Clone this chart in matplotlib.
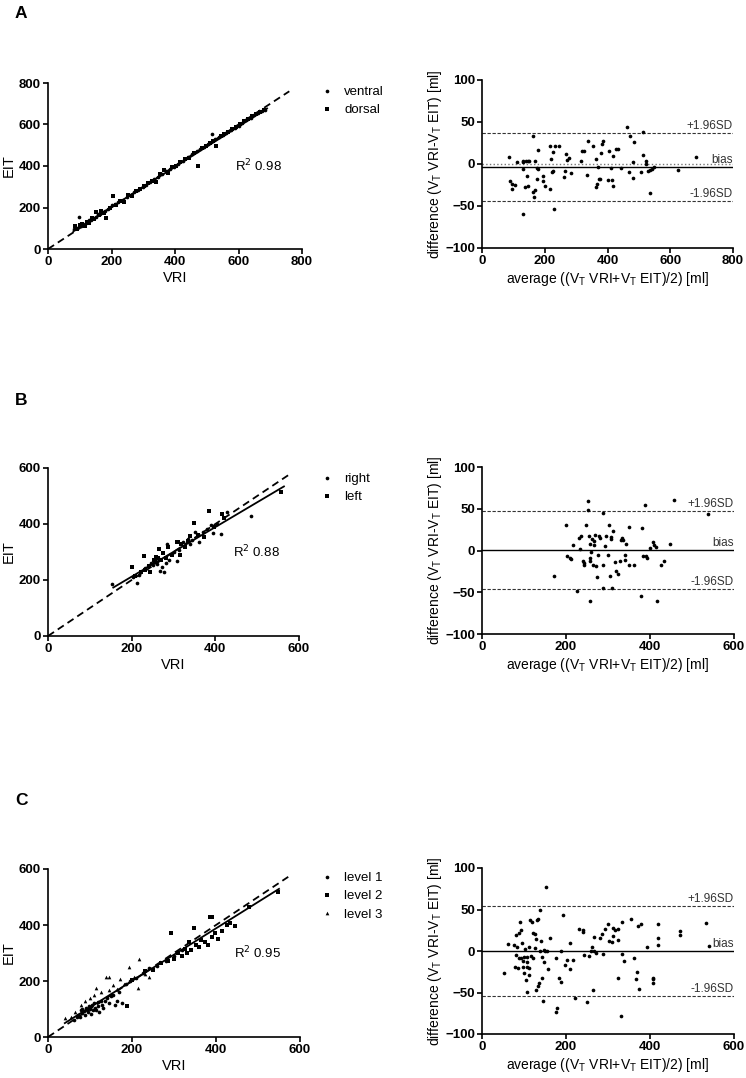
import numpy as np
import matplotlib as mpl
import matplotlib.pyplot as plt
from matplotlib.lines import Line2D

mpl.rcParams.update({'font.family': ['Liberation Sans', 'DejaVu Sans'], 'font.size': 9})

# ---- panel A: ventral / dorsal ----
a_ventral_vri = [82, 90, 98, 105, 112, 120, 128, 135, 142, 150, 158, 165, 172, 180, 190, 200, 210, 222,
                 235, 248, 260, 272, 285, 298, 310, 322, 335, 348, 360, 372, 385, 398, 410, 425, 440, 455,
                 468, 480, 492, 505, 515, 525, 538, 550, 562, 575, 588, 600, 612, 625, 638, 650, 662, 675, 685]
a_ventral_eit = [95, 100, 155, 112, 118, 125, 140, 138, 150, 152, 170, 168, 178, 185, 195, 210, 215, 225,
                 238, 250, 262, 275, 285, 300, 310, 322, 335, 345, 362, 375, 385, 395, 410, 425, 445, 460,
                 470, 480, 490, 505, 555, 530, 540, 548, 560, 572, 585, 595, 608, 620, 632, 645, 655, 665, 672]
a_dorsal_vri = [85, 92, 100, 108, 115, 122, 130, 138, 145, 152, 160, 168, 175, 182, 195, 205, 215, 228,
                240, 252, 265, 278, 290, 302, 315, 328, 340, 352, 365, 378, 390, 402, 415, 430, 445, 460,
                472, 485, 498, 510, 520, 530, 545, 555, 568, 580, 592, 605, 618, 630, 642, 655, 668, 680]
a_dorsal_eit = [110, 95, 115, 120, 112, 130, 125, 150, 145, 180, 165, 185, 175, 150, 200, 255, 210, 230,
                225, 260, 255, 280, 290, 305, 318, 330, 325, 360, 380, 365, 395, 400, 420, 432, 440, 462,
                400, 488, 495, 512, 520, 495, 545, 552, 565, 578, 590, 600, 615, 625, 640, 650, 660, 668]
a_fit = (0.97, 8.0, 80, 690)  # slope, intercept, x from, x to

a_avg = [85, 90, 95, 97, 104, 111, 130, 130, 132, 139, 143, 138, 148, 150, 146, 164, 164, 168, 170, 175,
         176, 178, 180, 165, 194, 196, 201, 218, 218, 220, 223, 225, 227, 228, 233, 244, 130, 260, 263,
         268, 270, 276, 283, 314, 318, 325, 334, 339, 355, 362, 363, 366, 369, 373, 376, 378, 382, 386,
         400, 404, 410, 415, 419, 419, 427, 433, 442, 461, 467, 471, 482, 482, 484, 508, 513, 512, 522,
         524, 530, 534, 537, 543, 549, 625, 683]
a_diff = [8, -20, -24, -30, -25, 2, 2, -6, 3, 4, -14, -27, -26, 3, 4, 33, -33, -31, 3, -18,
          -5, 17, -6, -39, -14, -20, -26, -30, 22, 6, -10, 14, -8, -53, 22, 22, -60, -16, -8,
          12, 5, 7, -11, 3, 16, 16, -13, 27, 21, 6, -27, -24, -4, -18, -18, 13, 24, 27,
          -19, 15, -5, -19, -26, 10, 18, 18, -5, 44, -9, 33, 2, -17, 26, -9, 38, 11, 0,
          4, -8, -34, -7, -6, -3, -7, 8]
a_bias, a_upper, a_lower = -3.8, 36.6, -44.2

# ---- panel B: right / left ----
b_right_vri = [154, 202, 213, 217, 231, 239, 247, 257, 261, 267, 273, 278, 285, 290, 308, 312, 322, 334,
               344, 352, 361, 380, 389, 394, 413, 429, 486, 250, 265, 282, 300, 326, 340, 370, 405]
b_right_eit = [185, 209, 188, 218, 244, 251, 262, 265, 257, 233, 247, 227, 329, 271, 269, 307, 337, 345,
               343, 370, 337, 382, 397, 369, 363, 442, 430, 255, 275, 262, 300, 320, 330, 372, 400]
b_left_vri = [200, 207, 229, 233, 245, 253, 259, 265, 270, 275, 281, 287, 308, 310, 316, 328, 340, 349,
              374, 385, 415, 557, 222, 242, 256, 263, 296, 318, 335, 358, 398, 420]
b_left_eit = [247, 214, 286, 235, 229, 271, 283, 310, 271, 295, 277, 319, 335, 337, 289, 319, 357, 405,
              355, 448, 436, 516, 230, 250, 268, 280, 290, 330, 340, 360, 390, 420]
b_fit = (0.885, 35.0, 156, 564)

b_avg = [171, 201, 202, 210, 212, 217, 226, 231, 233, 236, 240, 242, 244, 247, 252, 253, 255, 256, 257,
         257, 258, 260, 261, 264, 266, 267, 270, 272, 274, 276, 279, 282, 287, 287, 288, 292, 296, 300,
         302, 304, 306, 308, 310, 311, 316, 320, 323, 328, 331, 334, 335, 340, 341, 343, 350, 351, 361,
         379, 382, 384, 389, 390, 393, 399, 407, 410, 415, 417, 425, 434, 448, 458, 537]
b_diff = [-30, 30, -7, -9, -10, 6, -48, 15, 2, 17, -12, -15, -17, 30, 59, 48, 17, 8, -9,
          -12, -60, -2, 14, -17, 6, 11, 18, -18, -32, -5, 17, 15, 45, -45, -17, 5, 17, -5,
          30, -30, 16, 14, -45, 23, -14, -24, -28, -12, 13, 15, 12, -11, -5, 8, -17, 28, -17,
          -55, 27, -6, 54, -7, -9, 3, 10, 7, 4, -61, -17, -12, 8, 60, 44]
b_bias, b_upper, b_lower = 0.5, 47.3, -46.3

# ---- panel C: level 1 / 2 / 3 ----
c_l1_vri = [62, 68, 72, 75, 78, 80, 82, 85, 88, 90, 92, 95, 98, 100, 102, 105, 108, 110, 112, 115, 118,
            120, 122, 125, 128, 130, 135, 140, 145, 150, 155, 160, 165, 170, 175, 185, 195, 210, 225, 240,
            260, 280, 300, 320]
c_l1_eit = [62, 72, 80, 70, 95, 85, 100, 92, 78, 105, 95, 88, 110, 100, 82, 115, 95, 120, 105, 98, 125,
            110, 90, 130, 115, 105, 128, 140, 120, 145, 150, 115, 130, 160, 120, 190, 200, 210, 230, 245,
            255, 270, 290, 310]
c_l2_vri = [188, 200, 230, 250, 270, 285, 292, 300, 310, 318, 325, 330, 336, 340, 347, 352, 360, 365, 373,
            380, 385, 391, 391, 398, 405, 415, 425, 434, 445, 478, 548]
c_l2_eit = [111, 205, 235, 240, 265, 270, 373, 280, 300, 290, 315, 300, 340, 310, 388, 330, 320, 345, 338,
            330, 427, 427, 358, 370, 350, 380, 400, 406, 395, 465, 517]
c_l3_vri = [40, 55, 65, 78, 88, 100, 110, 115, 125, 137, 145, 145, 155, 165, 172, 180, 194, 205, 215, 217,
            230, 240]
c_l3_eit = [67, 70, 90, 115, 128, 140, 150, 174, 160, 213, 213, 168, 185, 170, 207, 190, 251, 215, 176, 277,
            225, 215]
c_fit = (0.94, 12.0, 40, 550)

c_avg = [53, 61, 75, 78, 80, 81, 83, 85, 87, 89, 90, 92, 93, 95, 97, 98, 99, 100, 102, 104, 106, 106, 107,
         108, 111, 112, 113, 115, 117, 119, 121, 122, 125, 125, 128, 129, 131, 133, 134, 136, 137, 139,
         141, 143, 144, 146, 147, 148, 151, 152, 155, 156, 161, 175, 175, 179, 183, 187, 189, 194, 198,
         202, 209, 210, 217, 222, 230, 240, 240, 244, 250, 254, 260, 263, 264, 266, 266, 271, 280, 285,
         289, 294, 300, 303, 310, 311, 313, 317, 323, 324, 324, 333, 334, 332, 339, 355, 363, 366, 369,
         371, 374, 379, 392, 406, 407, 408, 419, 419, 420, 471, 471, 534, 540]
c_diff = [-26, 9, 7, -19, -5, 19, 5, -21, -9, 22, 35, -8, 25, 10, -19, -12, -7, -26, 3, -35, -49, -7, -13,
          -19, -21, 5, -29, 37, -6, 35, 22, -8, 21, 4, 14, -47, 37, -42, 39, -39, 0, 50,
          12, -7, -33, -60, 1, -13, 0, 77, 0, -22, 16, -9, -73, -69, -32, 0, -37, 43, -17,
          -11, 10, -22, -11, -57, 26, 25, 23, -5, -61, -6, 0, 5, -47, 17, 0, -3, 16, 21,
          -4, 26, 32, 12, 11, 18, 28, 25, -32, 13, 26, 35, -4, -78, -12, 39, -9, -34, -25,
          30, -46, 32, 5, -38, -33, -34, 16, 7, 32, 24, 19, 34, 6]
c_bias, c_upper, c_lower = 0.0, 54.0, -54.0

W, H = 746, 1078
fig = plt.figure(figsize=(W / 100, H / 100), dpi=100)


def px_axes(x0, y0, x1, y1):
    # axes from pixel box (top-left origin)
    return fig.add_axes([x0 / W, 1 - y1 / H, (x1 - x0) / W, (y1 - y0) / H])


def style(ax):
    for side in ['top', 'right']:
        ax.spines[side].set_visible(False)
    for side in ['left', 'bottom']:
        ax.spines[side].set_linewidth(1.2)
    ax.tick_params(direction='out', length=3.5, width=1.2, labelsize=9.5, pad=1.5)
    for lab in ax.get_xticklabels() + ax.get_yticklabels():
        lab.set_fontweight('bold')


def corr_plot(ax, groups, fit, lim, ticks, r2, ident_end, leg_pos):
    handles = []
    for vri, eit, marker, size, label in groups:
        ax.scatter(vri, eit, marker=marker, s=size, color='k', linewidths=0, zorder=3)
        handles.append(Line2D([], [], marker=marker, color='k', linestyle='none',
                              markersize=np.sqrt(size), markeredgewidth=0, label=label))
    ax.plot([0, ident_end], [0, ident_end], color='k', linestyle=(0, (4, 2.5)), linewidth=1.3, zorder=2)
    slope, icpt, x0, x1 = fit
    ax.plot([x0, x1], [slope * x0 + icpt, slope * x1 + icpt], color='k', linewidth=1.3, zorder=2)
    ax.set_xlim(0, lim)
    ax.set_ylim(0, lim)
    ax.set_xticks(ticks)
    ax.set_yticks(ticks)
    ax.set_xlabel('VRI', fontsize=10.5, labelpad=2)
    ax.set_ylabel('EIT', fontsize=10.5, labelpad=2)
    ax.text(0.737, 0.5, 'R$^2$ 0.%s' % r2, transform=ax.transAxes, fontsize=9.5, va='center')
    style(ax)
    ax.legend(handles=handles, loc='upper left', bbox_to_anchor=(leg_pos[0] / W, 1 - leg_pos[1] / H),
              bbox_transform=fig.transFigure, frameon=False, fontsize=9.5, handlelength=0.8,
              handletextpad=0.9, labelspacing=0.45, borderpad=0, borderaxespad=0)


def ba_plot(ax, avg, diff, bias, upper, lower, lim, ticks, zero_line=False):
    ax.scatter(avg, diff, s=7, color='k', linewidths=0, zorder=3)
    ax.axhline(upper, color='#333333', linestyle=(0, (3, 1.5)), linewidth=0.8)
    ax.axhline(lower, color='#333333', linestyle=(0, (3, 1.5)), linewidth=0.8)
    ax.axhline(bias, color='k', linewidth=1.0)
    if zero_line:
        ax.axhline(0, color='#777777', linestyle=':', linewidth=1.0)
    for val, txt in [(upper, '+1.96SD'), (bias, 'bias'), (lower, '-1.96SD')]:
        ax.text(lim, val + 1.5, txt, ha='right', va='bottom', fontsize=8.5, color='#333333')
    ax.set_xlim(0, lim)
    ax.set_ylim(-100, 100)
    ax.set_xticks(ticks)
    ax.set_yticks([-100, -50, 0, 50, 100])
    ax.set_xlabel('average ((V$_\\mathregular{T}$ VRI+V$_\\mathregular{T}$ EIT)/2) [ml]', fontsize=10, labelpad=2)
    ax.set_ylabel('difference (V$_\\mathregular{T}$ VRI-V$_\\mathregular{T}$ EIT) [ml]', fontsize=10, labelpad=1)
    style(ax)


# A
ax = px_axes(48, 83, 302, 249)
corr_plot(ax, [(a_ventral_vri, a_ventral_eit, 'o', 7, 'ventral'),
               (a_dorsal_vri, a_dorsal_eit, 's', 7, 'dorsal')],
          a_fit, 800, [0, 200, 400, 600, 800], '98', 760, (322, 86))
ax = px_axes(482, 80, 733, 248)
ba_plot(ax, a_avg, a_diff, a_bias, a_upper, a_lower, 800, [0, 200, 400, 600, 800], zero_line=True)

# B
ax = px_axes(48, 468, 299, 636)
corr_plot(ax, [(b_right_vri, b_right_eit, 'o', 7, 'right'),
               (b_left_vri, b_left_eit, 's', 7, 'left')],
          b_fit, 600, [0, 200, 400, 600], '88', 580, (322, 473))
ax = px_axes(482, 467, 734, 634)
ba_plot(ax, b_avg, b_diff, b_bias, b_upper, b_lower, 600, [0, 200, 400, 600])

# C
ax = px_axes(48, 869, 300, 1037)
corr_plot(ax, [(c_l1_vri, c_l1_eit, 'o', 7, 'level 1'),
               (c_l2_vri, c_l2_eit, 's', 7, 'level 2'),
               (c_l3_vri, c_l3_eit, '^', 7, 'level 3')],
          c_fit, 600, [0, 200, 400, 600], '95', 572, (322, 872))
ax = px_axes(482, 868, 734, 1034)
ba_plot(ax, c_avg, c_diff, c_bias, c_upper, c_lower, 600, [0, 200, 400, 600])

# panel letters
for letter, ypx in [('A', 18), ('B', 405), ('C', 805)]:
    fig.text(15 / W, 1 - ypx / H, letter, fontsize=12.5, fontweight='bold', va='baseline')

plt.savefig('out.png', dpi=100)
